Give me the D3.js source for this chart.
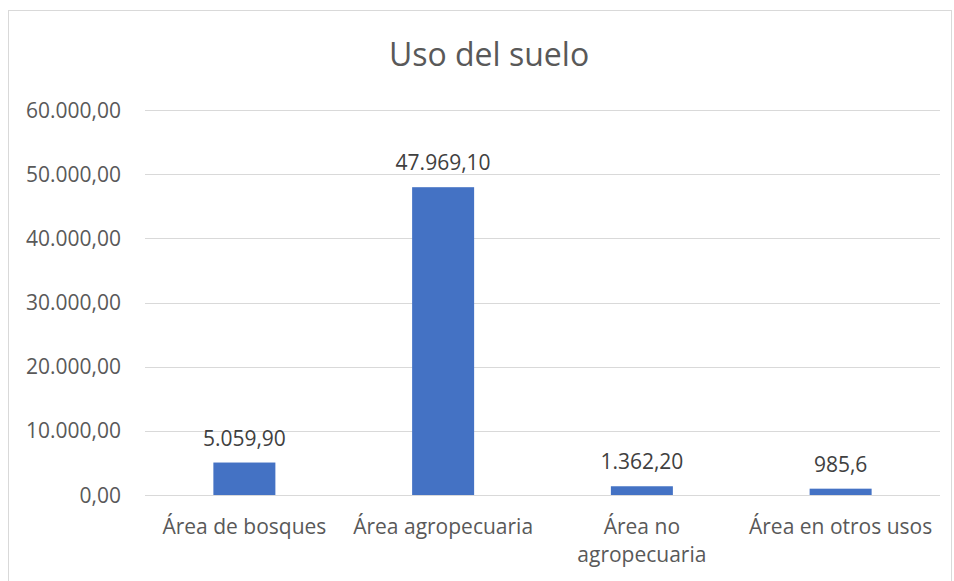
<!DOCTYPE html>
<html>
<head>
  <meta charset="utf-8">
  <title>Uso del suelo</title>
  <script src="https://d3js.org/d3.v7.min.js"></script>
  <style>
    body { margin: 0; background: #fff; font-family: "Open Sans", sans-serif; }
    .grid line { stroke: #d9d9d9; stroke-width: 1px; }
    .ylab { font-size: 21px; fill: #595959; }
    .xlab { font-size: 21px; fill: #595959; }
    .vlab { font-size: 21px; fill: #404040; }
  </style>
</head>
<body>
  <div id="chart"></div>
  <script>
    // datos del gráfico
    const categories = ["Área de bosques", "Área agropecuaria", "Área no agropecuaria", "Área en otros usos"];
    const values = [5059.9, 47969.1, 1362.2, 985.6];
    const valueLabels = ["5.059,90", "47.969,10", "1.362,20", "985,6"];
    const yTicks = [0, 10000, 20000, 30000, 40000, 50000, 60000];
    const yTickLabels = ["0,00", "10.000,00", "20.000,00", "30.000,00", "40.000,00", "50.000,00", "60.000,00"];
    // saltos de línea de las etiquetas de categoría
    const categoryLines = [["Área de bosques"], ["Área agropecuaria"], ["Área no", "agropecuaria"], ["Área en otros usos"]];

    const width = 954, height = 581;
    const plot = { left: 145, right: 940, top: 110, bottom: 495 };

    const svg = d3.select("#chart").append("svg")
      .attr("width", width)
      .attr("height", height);

    // marco del gráfico
    svg.append("rect")
      .attr("x", 8.5).attr("y", 10.5)
      .attr("width", 943).attr("height", 600)
      .attr("fill", "none")
      .attr("stroke", "#d9d9d9");

    svg.append("text")
      .attr("x", 489).attr("y", 66)
      .attr("text-anchor", "middle")
      .style("font-size", "32px")
      .style("fill", "#595959")
      .text("Uso del suelo");

    const x = d3.scaleBand().domain(categories).range([plot.left, plot.right]).padding(0);
    const y = d3.scaleLinear().domain([0, 60000]).range([plot.bottom, plot.top]);
    const barW = x.bandwidth() * 0.312;

    // líneas de cuadrícula
    svg.append("g").attr("class", "grid")
      .selectAll("line").data(yTicks).enter().append("line")
      .attr("x1", plot.left).attr("x2", plot.right)
      .attr("y1", d => Math.round(y(d)) + 0.5)
      .attr("y2", d => Math.round(y(d)) + 0.5);

    svg.append("g").selectAll("text").data(yTicks).enter().append("text")
      .attr("class", "ylab")
      .attr("x", 121)
      .attr("y", d => y(d) + 7.5)
      .attr("text-anchor", "end")
      .text((d, i) => yTickLabels[i]);

    // barras
    svg.append("g").selectAll("rect").data(values).enter().append("rect")
      .attr("x", (d, i) => x(categories[i]) + x.bandwidth() / 2 - barW / 2)
      .attr("y", d => y(d))
      .attr("width", barW)
      .attr("height", d => y(0) - y(d))
      .attr("fill", "#4472c4");

    svg.append("g").selectAll("text").data(values).enter().append("text")
      .attr("class", "vlab")
      .attr("x", (d, i) => x(categories[i]) + x.bandwidth() / 2)
      .attr("y", d => y(d) - 17)
      .attr("text-anchor", "middle")
      .text((d, i) => valueLabels[i]);

    // etiquetas del eje x
    const xl = svg.append("g").selectAll("text").data(categories).enter().append("text")
      .attr("class", "xlab")
      .attr("text-anchor", "middle")
      .attr("x", d => x(d) + x.bandwidth() / 2)
      .attr("y", 534);
    xl.selectAll("tspan").data((d, i) => categoryLines[i]).enter().append("tspan")
      .attr("x", function () { return d3.select(this.parentNode).attr("x"); })
      .attr("dy", (d, j) => j === 0 ? 0 : 28)
      .text(d => d);
  </script>
</body>
</html>
